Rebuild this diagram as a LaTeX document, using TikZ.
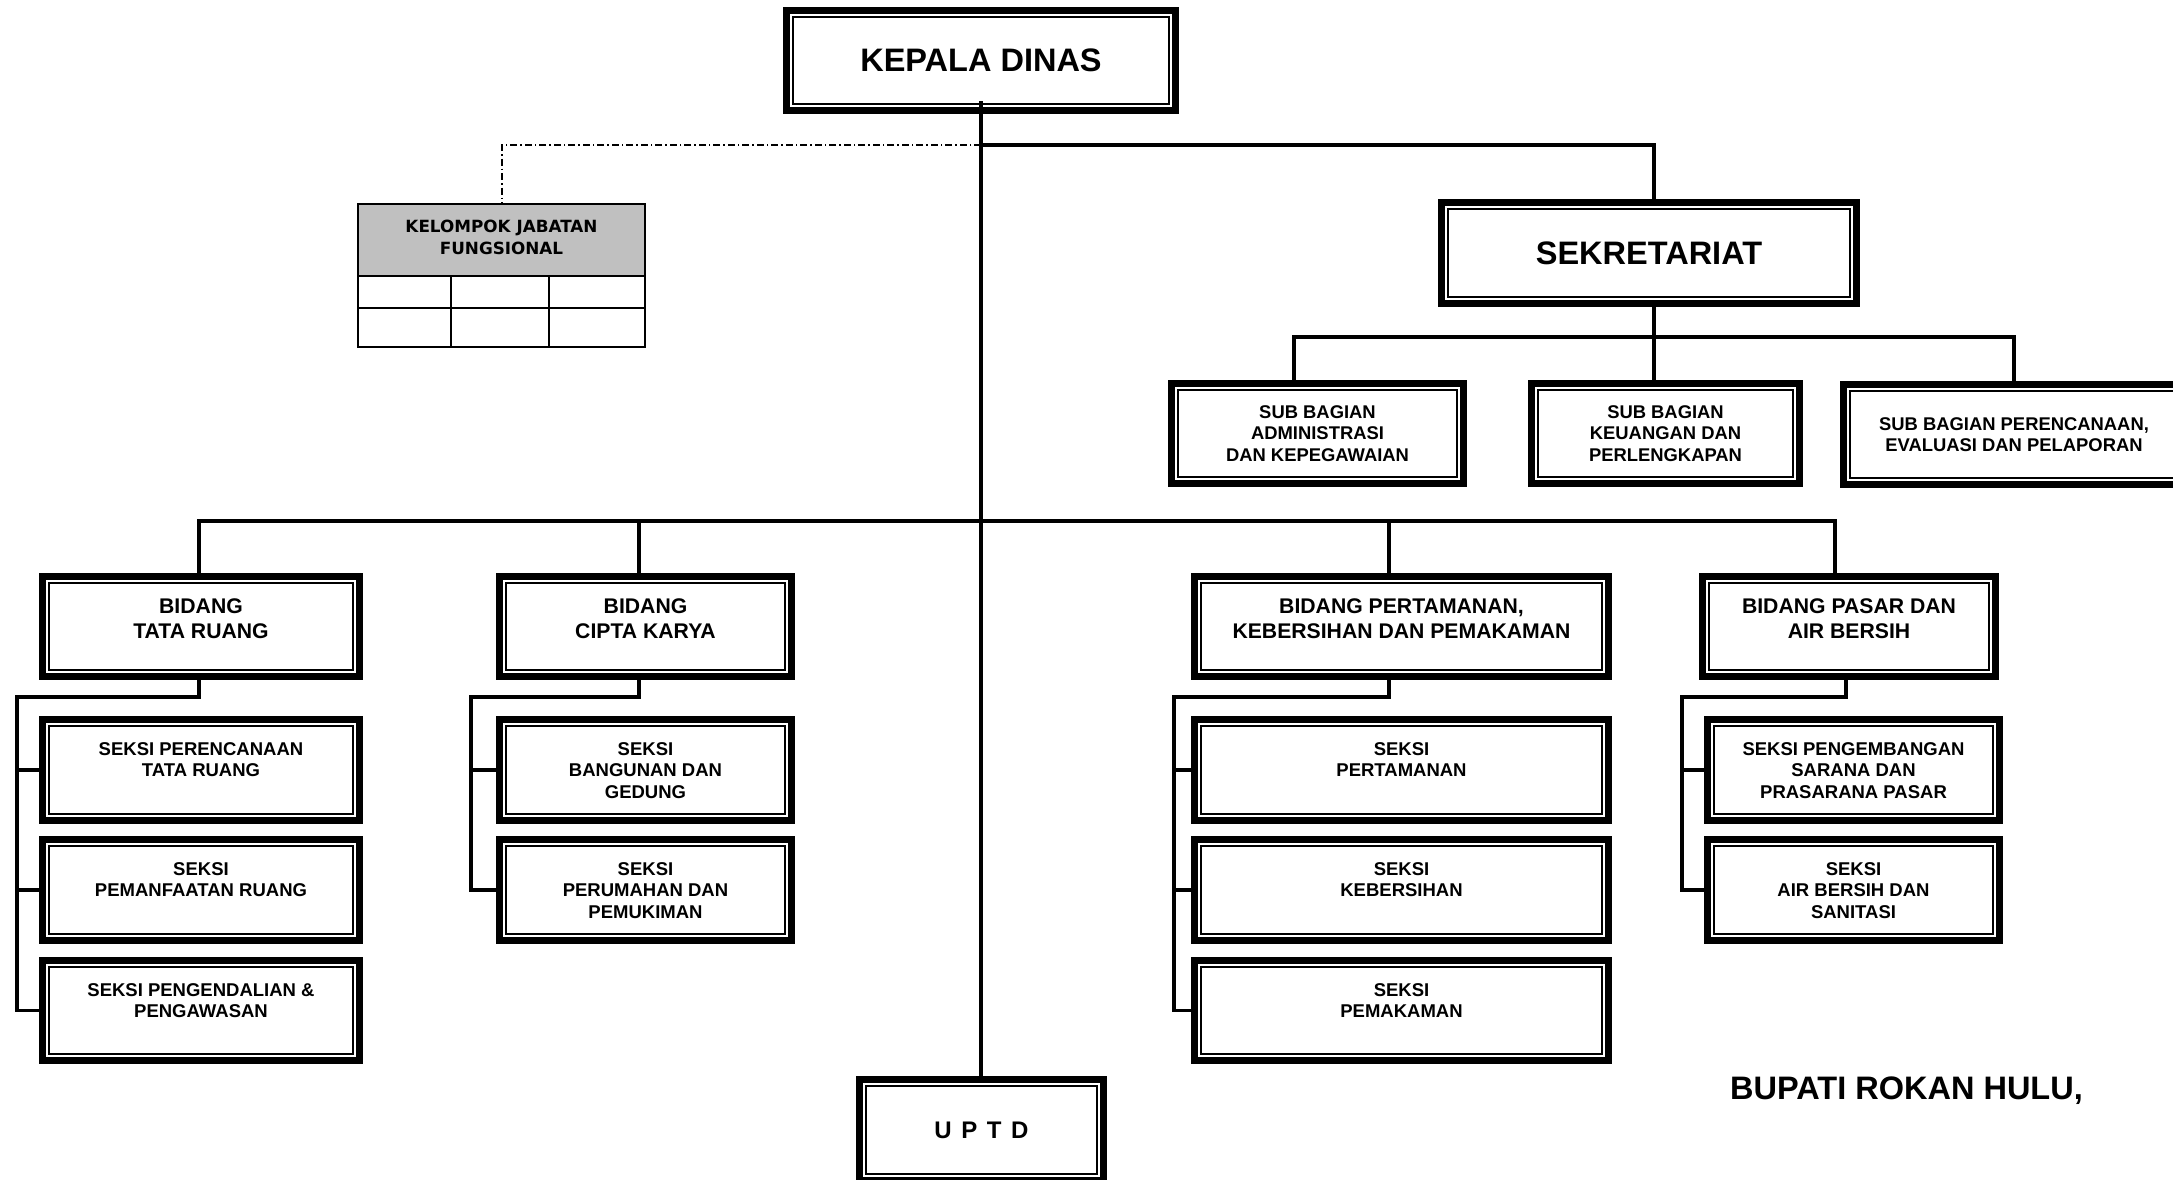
\documentclass[tikz,border=0pt]{standalone}
\usepackage{fontspec}
\setmainfont{Liberation Sans}
\newfontfamily\kjffont{DejaVu Sans}
\usetikzlibrary{calc}
\definecolor{hdrgray}{RGB}{192,192,192}

% box with a thick outer frame and a thin inner frame
\tikzset{
  orgbox/.style={draw, fill=white, line width=7pt, rectangle, inner sep=0pt, align=center,
    path picture={\draw[line width=2.2pt]
      ([shift={(6.8pt,6.8pt)}]path picture bounding box.south west) rectangle
      ([shift={(-6.8pt,-6.8pt)}]path picture bounding box.north east);}},
  conn/.style={line width=3.6pt, line join=miter},
  dashdot/.style={line width=2pt, dash pattern=on 7pt off 3pt on 1.5pt off 3pt},
  headtxt/.style={font=\bfseries\fontsize{32.5}{38}\selectfont},
  subtxt/.style={font=\bfseries\fontsize{18.4}{21.5}\selectfont},
  bidtxt/.style={font=\bfseries\fontsize{21.2}{25}\selectfont, align=center, inner sep=0pt},
  seksitxt/.style={font=\bfseries\fontsize{18.5}{21.5}\selectfont, align=center, inner sep=0pt},
  kjftxt/.style={font=\kjffont\bfseries\fontsize{16.8}{22}\selectfont, align=center, inner sep=0pt},
  uptdtxt/.style={font=\bfseries\fontsize{24}{28}\selectfont},
}

% #1 name, #2 x1, #3 y1, #4 x2, #5 y2 (outer edges), #6 text style, #7 text
\newcommand\midunit[7]{%
  \node[orgbox, #6, minimum width={#4-#2-7}, minimum height={#5-#3-7}]
    (#1) at ({(#2+#4)/2},{(#3+#5)/2}) {#7};}
% same, with the text hung from the top; #7 offset of the text top, #8 text
\newcommand\topunit[8]{%
  \node[orgbox, minimum width={#4-#2-7}, minimum height={#5-#3-7}]
    (#1) at ({(#2+#4)/2},{(#3+#5)/2}) {};
  \node[#6, anchor=north] (#1-t) at ({(#2+#4)/2},{#3+#7}) {#8};}

\begin{document}
\begin{tikzpicture}[x=1pt,y=-1pt]
\useasboundingbox (0,0) rectangle (2173,1180);
\fill[white] (0,0) rectangle (2173,1180);
\clip (0,0) rectangle (2173,1180);

% head and secretariat
\midunit{kd}{783}{7}{1179}{114}{headtxt}{KEPALA DINAS}
\midunit{sek}{1438}{199}{1860}{307}{headtxt}{SEKRETARIAT}
\midunit{sb1}{1168}{380}{1467}{487}{subtxt}{SUB BAGIAN\\ADMINISTRASI\\DAN KEPEGAWAIAN}
\midunit{sb2}{1528}{380}{1803}{487}{subtxt}{SUB BAGIAN\\KEUANGAN DAN\\PERLENGKAPAN}
\midunit{sb3}{1840}{381}{2188}{488}{subtxt}{SUB BAGIAN PERENCANAAN,\\EVALUASI DAN PELAPORAN}

% functional group table
\fill[hdrgray] (357,203) rectangle (646,276);
\node[draw, line width=2pt, inner sep=0pt, minimum width=287, minimum height=143] (kjf) at (501.5,275.5) {};
\draw[line width=2pt] (357,276) -- (646,276) (357,308) -- (646,308)
  (451,276) -- (451,348) (549,276) -- (549,348);
\node[kjftxt] (kjf-t) at (501.5,237) {KELOMPOK JABATAN\\FUNGSIONAL};

% divisions
\topunit{b1}{39}{573}{363}{680}{bidtxt}{25.5}{BIDANG\\TATA RUANG}
\topunit{b2}{496}{573}{795}{680}{bidtxt}{25.5}{BIDANG\\CIPTA KARYA}
\topunit{b3}{1191}{573}{1612}{680}{bidtxt}{25.5}{BIDANG PERTAMANAN,\\KEBERSIHAN DAN PEMAKAMAN}
\topunit{b4}{1699}{573}{1999}{680}{bidtxt}{25.5}{BIDANG PASAR DAN\\AIR BERSIH}

% sections
\topunit{s11}{39}{716}{363}{824}{seksitxt}{26}{SEKSI PERENCANAAN\\TATA RUANG}
\topunit{s12}{39}{836}{363}{944}{seksitxt}{26}{SEKSI\\PEMANFAATAN RUANG}
\topunit{s13}{39}{957}{363}{1064}{seksitxt}{26}{SEKSI PENGENDALIAN \&\\PENGAWASAN}
\topunit{s21}{496}{716}{795}{824}{seksitxt}{26}{SEKSI\\BANGUNAN DAN\\GEDUNG}
\topunit{s22}{496}{836}{795}{944}{seksitxt}{26}{SEKSI\\PERUMAHAN DAN\\PEMUKIMAN}
\topunit{s31}{1191}{716}{1612}{824}{seksitxt}{26}{SEKSI\\PERTAMANAN}
\topunit{s32}{1191}{836}{1612}{944}{seksitxt}{26}{SEKSI\\KEBERSIHAN}
\topunit{s33}{1191}{957}{1612}{1064}{seksitxt}{26}{SEKSI\\PEMAKAMAN}
\topunit{s41}{1704}{716}{2003}{824}{seksitxt}{26}{SEKSI PENGEMBANGAN\\SARANA DAN\\PRASARANA PASAR}
\topunit{s42}{1704}{836}{2003}{944}{seksitxt}{26}{SEKSI\\AIR BERSIH DAN\\SANITASI}

% technical unit
\midunit{uptd}{856}{1076}{1107}{1184}{uptdtxt}{U\hspace{.4em}P\hspace{.4em}T\hspace{.4em}D}

\node[headtxt, anchor=base west, inner sep=0pt] (bupati) at (1730,1099) {BUPATI ROKAN HULU,};

% connectors
\coordinate (jt) at (981,145);
\draw[conn] ([yshift=12.5pt]kd.south) -- (kd.south |- uptd.north);
\draw[conn] (jt) -| ([xshift=5pt]sek.north);
\draw[dashdot] (jt) -| (kjf.north);

\draw[conn] ([xshift=5pt]sek.south) -- ([xshift=5pt]sek.south |- sb2.north);
\coordinate (sl) at (1294,337);
\coordinate (sr) at (2014,337);
\draw[conn] ([xshift=-23.5pt]sb1.north) -- (sl) -- (sr) -- (sb3.north);

\coordinate (ml) at (199,521);
\coordinate (mr) at (1835,521);
\draw[conn] ([xshift=-2pt]b1.north) -- (ml) -- (mr) -- ([xshift=-14pt]b4.north);
\draw[conn] ([xshift=-6.5pt]b2.north) -- ([xshift=-6.5pt]b2.north |- ml);
\draw[conn] ([xshift=-12.5pt]b3.north) -- ([xshift=-12.5pt]b3.north |- ml);

\coordinate (k1) at (17,697);
\draw[conn] ([xshift=-2pt]b1.south) |- (k1) |- (s13.west);
\draw[conn] (k1 |- s11.west) -- (s11.west);
\draw[conn] (k1 |- s12.west) -- (s12.west);

\coordinate (k2) at (471,697);
\draw[conn] ([xshift=-6.5pt]b2.south) |- (k2) |- (s22.west);
\draw[conn] (k2 |- s21.west) -- (s21.west);

\coordinate (k3) at (1174,697);
\draw[conn] ([xshift=-12.5pt]b3.south) |- (k3) |- (s33.west);
\draw[conn] (k3 |- s31.west) -- (s31.west);
\draw[conn] (k3 |- s32.west) -- (s32.west);

\coordinate (k4) at (1682,697);
\draw[conn] ([xshift=-3pt]b4.south) |- (k4) |- (s42.west);
\draw[conn] (k4 |- s41.west) -- (s41.west);
\end{tikzpicture}
\end{document}
